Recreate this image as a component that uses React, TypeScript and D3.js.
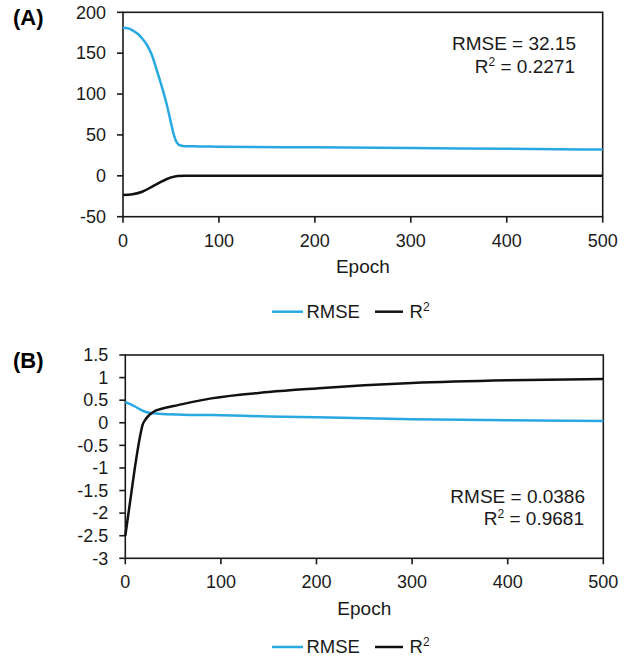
import React, { useEffect, useRef } from 'react'
import * as d3 from 'd3'

// Panel A: training curves (epoch vs value)
const epochsA = [0, 5, 10, 15, 20, 25, 30, 35, 40, 45, 50, 53, 56, 60, 65, 80, 100, 200, 300, 400, 500]
const rmseA = [181, 180.5, 178, 174, 168, 160, 148, 130, 111, 90, 65, 50, 41, 37, 36.2, 36, 35.6, 34.8, 34, 33, 32.15]
const r2EpochsA = [0, 10, 20, 30, 40, 50, 57, 65, 100, 200, 300, 400, 500]
const r2A = [-23.5, -22.5, -19.5, -13.5, -7, -2, -0.2, 0, 0.05, 0.1, 0.15, 0.2, 0.2271]

// Panel B
const epochsB = [0, 10, 20, 25, 35, 60, 90, 150, 200, 300, 400, 500]
const rmseB = [0.46, 0.36, 0.25, 0.22, 0.2, 0.18, 0.17, 0.14, 0.12, 0.08, 0.055, 0.0386]
const r2EpochsB = [0, 5, 10, 15, 18, 21, 25, 30, 40, 55, 90, 150, 200, 250, 300, 400, 500]
const r2B = [-2.5, -1.75, -1.0, -0.35, -0.05, 0.07, 0.17, 0.25, 0.32, 0.39, 0.54, 0.68, 0.76, 0.83, 0.88, 0.94, 0.9681]

const xTicks = [0, 100, 200, 300, 400, 500]
const yTicksA = [-50, 0, 50, 100, 150, 200]
const yTicksB = [-3, -2.5, -2, -1.5, -1, -0.5, 0, 0.5, 1, 1.5]

const BLUE = '#29a9e1'
const FONT = 'Arial, "Liberation Sans", sans-serif'

type Panel = {
  label: string
  left: number
  right: number
  top: number
  bottom: number
  yDomain: [number, number]
  yTicks: number[]
  rmseX: number[]
  rmseY: number[]
  r2X: number[]
  r2Y: number[]
  statRmse: string
  statR2: string
  statX: number
  statY: number
  tickY: number
  epochY: number
  legendY: number
}

const panels: Panel[] = [
  {
    label: '(A)', left: 123, right: 602.7, top: 12.3, bottom: 216.7,
    yDomain: [-50, 200], yTicks: yTicksA,
    rmseX: epochsA, rmseY: rmseA, r2X: r2EpochsA, r2Y: r2A,
    statRmse: 'RMSE = 32.15', statR2: '0.2271', statX: 576, statY: 50,
    tickY: 246.5, epochY: 273, legendY: 311.7
  },
  {
    label: '(B)', left: 125.3, right: 603.3, top: 355, bottom: 558.3,
    yDomain: [-3, 1.5], yTicks: yTicksB,
    rmseX: epochsB, rmseY: rmseB, r2X: r2EpochsB, r2Y: r2B,
    statRmse: 'RMSE = 0.0386', statR2: '0.9681', statX: 585, statY: 502.7,
    tickY: 588, epochY: 614.5, legendY: 647
  }
]

export default function App() {
  const svgRef = useRef<SVGSVGElement>(null)

  useEffect(() => {
    const svg = d3.select(svgRef.current)
    svg.selectAll('*').remove()

    panels.forEach(p => {
      const x = d3.scaleLinear().domain([0, 500]).range([p.left, p.right])
      const y = d3.scaleLinear().domain(p.yDomain).range([p.bottom, p.top])
      const g = svg.append('g')

      g.append('text')
        .attr('x', 13)
        .attr('y', p.top + 13)
        .style('font-family', FONT)
        .style('font-size', '22px')
        .style('font-weight', 'bold')
        .text(p.label)

      // frame
      g.append('rect')
        .attr('x', p.left)
        .attr('y', p.top)
        .attr('width', p.right - p.left)
        .attr('height', p.bottom - p.top)
        .attr('fill', 'none')
        .attr('stroke', '#1a1a1a')
        .attr('stroke-width', 1.6)

      // x ticks
      g.selectAll('.xt')
        .data(xTicks)
        .enter().append('line')
        .attr('x1', d => x(d)).attr('x2', d => x(d))
        .attr('y1', p.bottom).attr('y2', p.bottom + 6)
        .attr('stroke', '#1a1a1a').attr('stroke-width', 1.6)

      g.selectAll('.xl')
        .data(xTicks)
        .enter().append('text')
        .attr('x', d => x(d))
        .attr('y', p.tickY)
        .style('text-anchor', 'middle')
        .style('font-family', FONT)
        .style('font-size', '18px')
        .style('fill', '#1a1a1a')
        .text(d => d)

      // y ticks
      g.selectAll('.yt')
        .data(p.yTicks)
        .enter().append('line')
        .attr('x1', p.left - 6).attr('x2', p.left)
        .attr('y1', d => y(d)).attr('y2', d => y(d))
        .attr('stroke', '#1a1a1a').attr('stroke-width', 1.6)

      g.selectAll('.yl')
        .data(p.yTicks)
        .enter().append('text')
        .attr('x', p.left - 17)
        .attr('y', d => y(d))
        .attr('dy', '0.35em')
        .style('text-anchor', 'end')
        .style('font-family', FONT)
        .style('font-size', '18px')
        .style('fill', '#1a1a1a')
        .text(d => d)

      g.append('text')
        .attr('x', (p.left + p.right) / 2)
        .attr('y', p.epochY)
        .style('text-anchor', 'middle')
        .style('font-family', FONT)
        .style('font-size', '19px')
        .style('fill', '#1a1a1a')
        .text('Epoch')

      const line = d3.line<[number, number]>()
        .x(d => x(d[0]))
        .y(d => y(d[1]))
        .curve(d3.curveMonotoneX)

      g.append('path')
        .attr('d', line(p.rmseX.map((e, i) => [e, p.rmseY[i]] as [number, number])))
        .attr('fill', 'none')
        .attr('stroke', BLUE)
        .attr('stroke-width', 2.5)

      g.append('path')
        .attr('d', line(p.r2X.map((e, i) => [e, p.r2Y[i]] as [number, number])))
        .attr('fill', 'none')
        .attr('stroke', '#111')
        .attr('stroke-width', 2.5)

      // stats
      g.append('text')
        .attr('x', p.statX)
        .attr('y', p.statY)
        .style('text-anchor', 'end')
        .style('font-family', FONT)
        .style('font-size', '19px')
        .style('fill', '#1a1a1a')
        .text(p.statRmse)

      const r2t = g.append('text')
        .attr('x', p.statX - 1)
        .attr('y', p.statY + 22.5)
        .style('text-anchor', 'end')
        .style('font-family', FONT)
        .style('font-size', '19px')
        .style('fill', '#1a1a1a')
      r2t.append('tspan').text('R')
      r2t.append('tspan').attr('dy', -7).style('font-size', '12px').text('2')
      r2t.append('tspan').attr('dy', 7).text(' = ' + p.statR2)

      // legend
      const lg = g.append('g').attr('transform', `translate(0,${p.legendY})`)
      lg.append('line')
        .attr('x1', 272).attr('x2', 303).attr('y1', 0).attr('y2', 0)
        .attr('stroke', BLUE).attr('stroke-width', 2.5)
      lg.append('text')
        .attr('x', 306.5).attr('y', 0).attr('dy', '0.35em')
        .style('font-family', FONT).style('font-size', '18.5px').style('fill', '#1a1a1a')
        .text('RMSE')
      lg.append('line')
        .attr('x1', 375).attr('x2', 403).attr('y1', 0).attr('y2', 0)
        .attr('stroke', '#111').attr('stroke-width', 2.5)
      const lt = lg.append('text')
        .attr('x', 409.5).attr('y', 0).attr('dy', '0.35em')
        .style('font-family', FONT).style('font-size', '18.5px').style('fill', '#1a1a1a')
      lt.append('tspan').text('R')
      lt.append('tspan').attr('dy', -7).style('font-size', '12px').text('2')
    })
  }, [])

  return (
    <svg
      ref={svgRef}
      width={630}
      height={665}
      style={{ position: 'absolute', left: 0, top: 0, background: '#fff' }}
    />
  )
}
